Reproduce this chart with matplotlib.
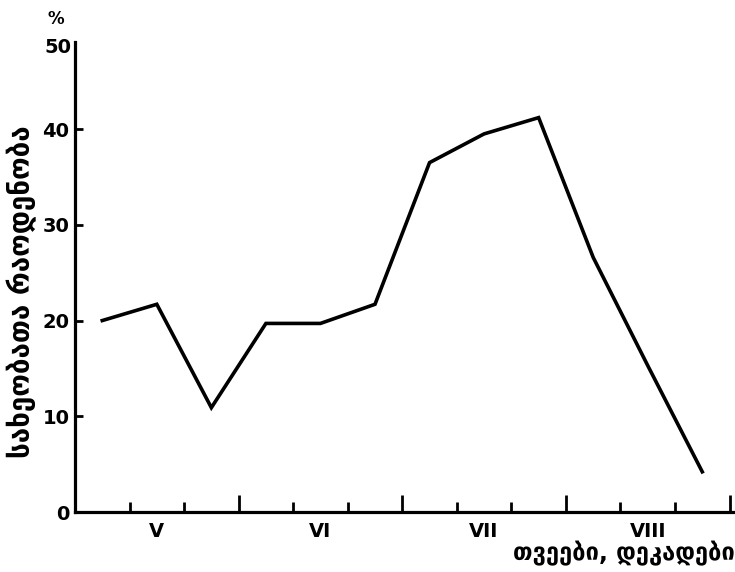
import matplotlib
matplotlib.use('Agg')
import matplotlib.pyplot as plt
import matplotlib.transforms as mtransforms

# Decade midpoints (0.5 .. 11.5) and share of species, %
decades = [0.5, 1.5, 2.5, 3.5, 4.5, 5.5, 6.5, 7.5, 8.5, 9.5, 10.5, 11.5]
values = [20.0, 21.7, 10.9, 19.7, 19.7, 21.7, 36.5, 39.5, 41.2, 26.6, 15.3, 4.2]

months = ['V', 'VI', 'VII', 'VIII']
month_centers = [1.5, 4.5, 7.5, 10.5]
month_bounds = [3, 6, 9, 12]
decade_bounds = [1, 2, 4, 5, 7, 8, 10, 11]
y_ticks = [0, 10, 20, 30, 40]

plt.rcParams['font.family'] = ['DejaVu Sans']
plt.rcParams['font.weight'] = 'bold'

fig = plt.figure(figsize=(7.35, 5.72), dpi=100)
ax = fig.add_axes([75 / 735, 1 - 512 / 572, 660 / 735, 470 / 572])

ax.plot(decades, values, color='black', linewidth=2.6, solid_joinstyle='miter')

ax.set_xlim(0, 12.1)
ax.set_ylim(0, 49.1)

for side in ['top', 'right']:
    ax.spines[side].set_visible(False)
for side in ['left', 'bottom']:
    ax.spines[side].set_linewidth(2.3)

ax.set_xticks(month_bounds)
ax.set_xticks(decade_bounds, minor=True)
ax.set_xticklabels([])
ax.tick_params(axis='x', which='major', direction='in', length=12, width=2)
ax.tick_params(axis='x', which='minor', direction='in', length=7, width=2)

ax.set_yticks(y_ticks)
ax.set_yticklabels([str(v) for v in y_ticks], fontsize=14, fontweight='bold')
ax.tick_params(axis='y', direction='in', length=6, width=2, pad=4)

# '50' label at the top of the axis and the '%' sign above it
ax.text(-0.06, 48.5, '50', ha='right', va='center', fontsize=14, fontweight='bold',
        clip_on=False)
ax.text(-0.2, 51.5, '%', ha='right', va='center', fontsize=12, fontweight='bold',
        clip_on=False)

trans = mtransforms.blended_transform_factory(ax.transData, ax.transAxes)
for m, c in zip(months, month_centers):
    ax.text(c, -0.022, m, ha='center', va='top', fontsize=14, fontweight='bold',
            transform=trans)

fig.text(22 / 735, 1 - 292 / 572, 'სახეობათა რაოდენობა', rotation=90,
         ha='center', va='center', fontsize=20, fontweight='bold')
fig.text(624 / 735, 1 - 553 / 572, 'თვეები, დეკადები', ha='center', va='center',
         fontsize=17, fontweight='bold')

fig.savefig('out.png', dpi=100)
